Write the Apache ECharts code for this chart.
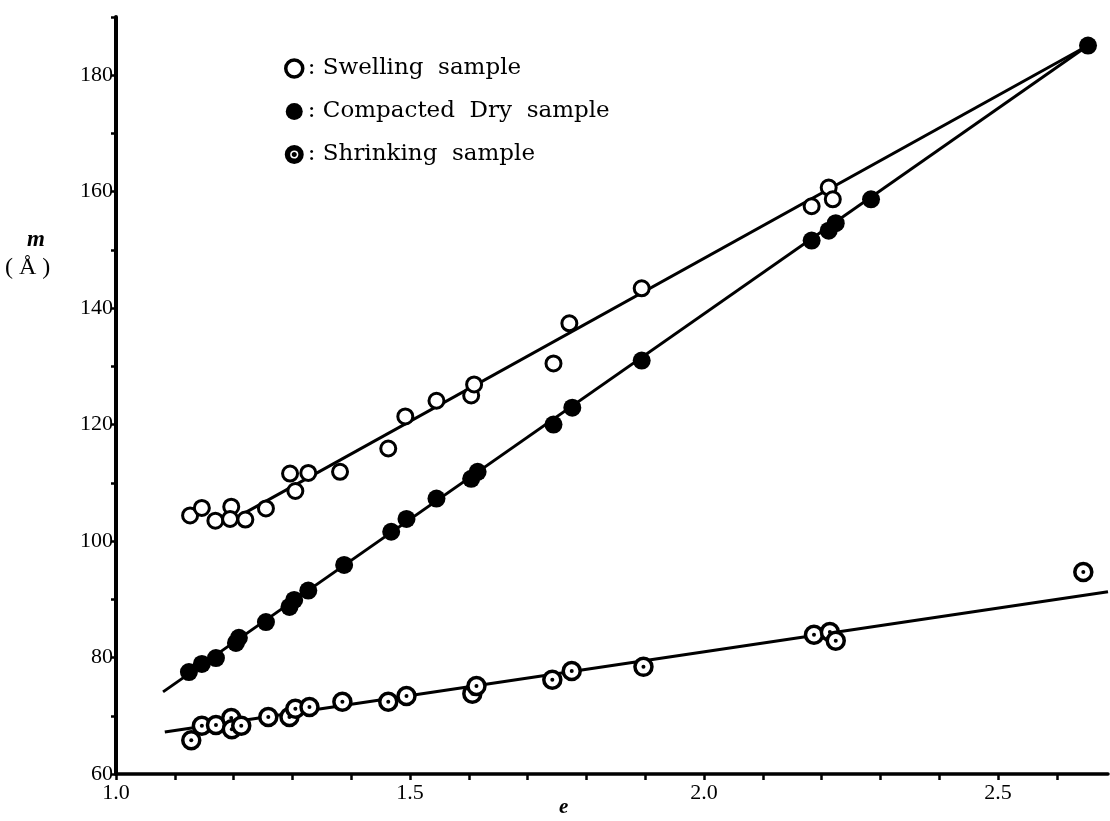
<!DOCTYPE html>
<html>
<head>
<meta charset="utf-8">
<script src="https://cdn.jsdelivr.net/npm/echarts@6/dist/echarts.min.js"></script>
<style>html,body{margin:0;padding:0;background:#fff}#c{width:1110px;height:821px}</style>
</head>
<body>
<div id="c"></div>
<script>
// e (void ratio) vs m (Å)
const swelling = [
  [1.126,104.4],[1.146,105.7],[1.169,103.5],[1.196,105.9],[1.194,103.8],[1.220,103.7],
  [1.255,105.6],[1.296,111.6],[1.305,108.6],[1.327,111.7],[1.381,111.9],[1.463,115.9],
  [1.492,121.4],[1.545,124.1],[1.604,125.0],[1.609,126.9],[1.744,130.5],[1.771,137.4],
  [1.894,143.4],[2.183,157.5],[2.212,160.7],[2.219,158.7]
];
const compacted = [
  [1.124,77.5],[1.146,78.9],[1.170,79.9],[1.204,82.5],[1.209,83.4],[1.255,86.1],
  [1.295,88.7],[1.303,89.9],[1.327,91.5],[1.388,95.9],[1.468,101.6],[1.494,103.8],
  [1.545,107.3],[1.604,110.7],[1.615,111.9],[1.744,120.0],[1.776,122.9],[1.894,131.0],
  [2.183,151.6],[2.212,153.3],[2.224,154.6],[2.284,158.7],[2.653,185.1]
];
const shrinking = [
  [1.128,65.8],[1.146,68.3],[1.170,68.4],[1.196,69.6],[1.197,67.7],[1.213,68.3],
  [1.259,69.8],[1.295,69.8],[1.305,71.2],[1.329,71.5],[1.385,72.4],[1.463,72.4],
  [1.494,73.4],[1.606,73.8],[1.613,75.1],[1.742,76.2],[1.775,77.7],[1.897,78.4],
  [2.187,83.9],[2.214,84.4],[2.224,82.9],[2.645,94.7]
];
// fitted lines (end points)
const swellingLine = [[1.213,104.5],[2.653,185.1]];
const compactedLine = [[1.080,74.1],[2.653,185.1]];
const shrinkingLine = [[1.083,67.2],[2.687,91.3]];

const xTicks = [1.0,1.1,1.2,1.3,1.4,1.5,1.6,1.7,1.8,1.9,2.0,2.1,2.2,2.3,2.4,2.5,2.6];
const xTickLabels = [1.0,1.5,2.0,2.5];
const yTicks = [60,70,80,90,100,110,120,130,140,150,160,170,180,190];
const yTickLabels = [60,80,100,120,140,160,180];

const names = ['Swelling sample','Compacted Dry sample','Shrinking sample'];

const chart = echarts.init(document.getElementById('c'), null, {renderer:'canvas'});
const axisFont = {fontFamily:'Liberation Serif', fontSize:22, color:'#000'};
const lineSeries = (d) => ({
  type:'line', data:d, symbol:'none', silent:true, z:1,
  lineStyle:{color:'#000', width:3}, animation:false
});
chart.setOption({
  animation:false,
  backgroundColor:'#fff',
  grid:{left:116, right:2, top:17, bottom:47, containLabel:false},
  xAxis:{
    type:'value', min:1.0, max:2.687,
    splitLine:{show:false},
    axisLine:{lineStyle:{color:'#000', width:3.5}},
    axisTick:{show:true, length:6, inside:false, lineStyle:{color:'#000', width:2.5}, customValues:xTicks},
    axisLabel:Object.assign({margin:8, customValues:xTickLabels, formatter:v=>v.toFixed(1)}, axisFont)
  },
  yAxis:{
    type:'value', min:60, max:190,
    splitLine:{show:false},
    axisLine:{lineStyle:{color:'#000', width:4}},
    axisTick:{show:true, length:5, lineStyle:{color:'#000', width:2.5}, customValues:yTicks},
    axisLabel:Object.assign({margin:3, customValues:yTickLabels, formatter:v=>String(v)}, axisFont)
  },
  legend:{
    orient:'vertical', left:279, top:52, itemGap:20, itemWidth:17, itemHeight:22,
    selectedMode:false,
    textStyle:{fontFamily:'DejaVu Serif', fontSize:23, color:'#000'},
    formatter:n=>': '+n.replace(/ /g,'  '),
    data:[
      {name:names[0], icon:'circle', itemStyle:{color:'#fff', borderColor:'#000', borderWidth:3.5}},
      {name:names[1], icon:'circle', itemStyle:{color:'#000'}},
      {name:names[2], icon:'path://M10,0A10,10,0,1,1,9.99,0ZM10,4A6,6,0,1,0,10.01,4ZM10,8.2A1.8,1.8,0,1,1,9.99,8.2Z', itemStyle:{color:'#000'}}
    ]
  },
  graphic:[
    {type:'text', left:27, top:229, style:{text:'m', font:'italic bold 23px "Liberation Serif"', fill:'#000'}},
    {type:'text', left:5, top:256, style:{text:'( Å )', font:'24px "Liberation Serif"', fill:'#000'}},
    {type:'text', left:559, top:797, style:{text:'e', font:'italic bold 21px "Liberation Serif"', fill:'#000'}}
  ],
  series:[
    lineSeries(swellingLine), lineSeries(compactedLine), lineSeries(shrinkingLine),
    {name:names[0], type:'scatter', data:swelling, symbol:'circle', symbolSize:15, z:3,
      itemStyle:{color:'#fff', borderColor:'#000', borderWidth:3, opacity:1}},
    {name:names[1], type:'scatter', data:compacted, symbol:'circle', symbolSize:18, z:3,
      itemStyle:{color:'#000', opacity:1}},
    {name:names[2], type:'scatter', data:shrinking, symbol:'circle', symbolSize:17, z:3,
      itemStyle:{color:'#fff', borderColor:'#000', borderWidth:3.5, opacity:1}},
    {type:'scatter', data:shrinking, symbol:'circle', symbolSize:4, z:4, silent:true,
      itemStyle:{color:'#000', opacity:1}}
  ]
});
</script>
</body>
</html>
